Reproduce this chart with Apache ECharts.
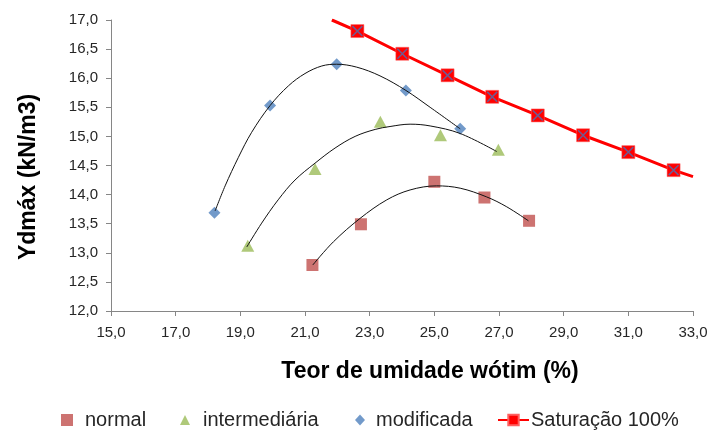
<!DOCTYPE html>
<html>
<head>
<meta charset="utf-8">
<script src="https://cdn.jsdelivr.net/npm/echarts@6/dist/echarts.min.js"></script>
<style>
  html, body { margin: 0; padding: 0; background: #fff; }
  #chart { width: 713px; height: 430px; }
</style>
</head>
<body>
<div id="chart"></div>
<script>
// Axis ticks
var xTicks = [15, 17, 19, 21, 23, 25, 27, 29, 31, 33];
var yTicks = [12, 12.5, 13, 13.5, 14, 14.5, 15, 15.5, 16, 16.5, 17];

// Compaction points (moisture %, dry unit weight kN/m3)
var normalX = [21.23, 22.73, 25.0, 26.55, 27.93];
var normalY = [12.79, 13.49, 14.22, 13.95, 13.55];

var interX = [19.23, 21.31, 23.33, 25.19, 26.98];
var interY = [13.12, 14.44, 15.25, 15.02, 14.77];

var modX = [18.2, 19.92, 21.98, 24.12, 25.8];
var modY = [13.69, 15.53, 16.24, 15.79, 15.13];

// 100% saturation line; the end points lie on the plot border and carry no marker
var satX = [21.83, 22.62, 24.01, 25.41, 26.79, 28.2, 29.6, 31.0, 32.4, 33.0];
var satY = [17.0, 16.81, 16.42, 16.05, 15.68, 15.36, 15.02, 14.73, 14.42, 14.31];
var satMarked = [false, true, true, true, true, true, true, true, true, false];

// Trend curves through each compaction series
var normTrendX = [21.24, 21.88, 22.70, 23.53, 24.25, 25.07, 25.80, 26.62, 27.24, 27.91];
var normTrendY = [12.79, 13.19, 13.59, 13.91, 14.08, 14.15, 14.11, 13.96, 13.79, 13.55];

var interTrendX = [19.2, 19.66, 20.17, 20.69, 21.31, 21.93, 22.55, 23.17, 23.63, 24.25, 24.87, 25.8, 26.93];
var interTrendY = [13.10, 13.51, 13.91, 14.25, 14.54, 14.80, 15.0, 15.12, 15.17, 15.21, 15.18, 15.05, 14.74];

var modTrendX = [18.22, 18.53, 18.94, 19.35, 19.92, 20.49, 21.0, 21.52, 21.98, 22.6, 23.32, 24.12, 24.87, 25.8];
var modTrendY = [13.72, 14.15, 14.64, 15.07, 15.53, 15.87, 16.08, 16.21, 16.24, 16.19, 16.04, 15.79, 15.50, 15.13];

function pairs(xs, ys) {
  return xs.map(function (x, i) { return [x, ys[i]]; });
}
function fmt(v) { return v.toFixed(1).replace('.', ','); }

var FONT = '"Liberation Sans", Arial, sans-serif';
var TEXT = '#262626';
var AXIS = '#868686';

var satData = satX.map(function (x, i) {
  var item = { value: [x, satY[i]] };
  if (!satMarked[i]) { item.symbol = 'none'; }
  return item;
});
var satMarkerData = pairs(satX, satY).filter(function (p, i) { return satMarked[i]; });

// Thin diagonal cross drawn over each saturation marker
var crossPath = 'path://M0,1L1,0L10,9L9,10Z M9,0L10,1L1,10L0,9Z';

function trend(name, xs, ys) {
  return {
    name: name,
    type: 'line',
    data: pairs(xs, ys),
    smooth: 0.35,
    symbol: 'none',
    lineStyle: { color: '#111', width: 1 },
    z: 4,
    silent: true
  };
}

function legendFor(name, left, icon, w, h, gap) {
  return {
    data: [{ name: name, icon: icon }],
    left: left,
    top: 410,
    padding: 0,
    itemWidth: w,
    itemHeight: h,
    selectedMode: false,
    textStyle: { fontFamily: FONT, fontSize: 20, color: TEXT, padding: [0, 0, 0, gap] }
  };
}

var chart = echarts.init(document.getElementById('chart'), null, { renderer: 'canvas' });

chart.setOption({
  animation: false,
  backgroundColor: '#fff',
  grid: { left: 111, right: 20, top: 20, bottom: 119, containLabel: false },
  xAxis: {
    type: 'value',
    min: xTicks[0],
    max: xTicks[xTicks.length - 1],
    interval: xTicks[1] - xTicks[0],
    splitLine: { show: false },
    axisLine: { lineStyle: { color: AXIS, width: 1 } },
    axisTick: { show: true, length: 5, lineStyle: { color: AXIS } },
    axisLabel: {
      margin: 14,
      fontFamily: FONT, fontSize: 15, color: TEXT,
      showMinLabel: true, showMaxLabel: true,
      formatter: fmt
    }
  },
  yAxis: {
    type: 'value',
    min: yTicks[0],
    max: yTicks[yTicks.length - 1],
    interval: yTicks[1] - yTicks[0],
    splitLine: { show: false },
    axisLine: { show: true, lineStyle: { color: AXIS, width: 1 } },
    axisTick: { show: true, length: 5, lineStyle: { color: AXIS } },
    axisLabel: {
      margin: 13,
      fontFamily: FONT, fontSize: 15, color: TEXT,
      showMinLabel: true, showMaxLabel: true,
      formatter: fmt
    }
  },
  graphic: [
    {
      type: 'text',
      x: 430, y: 372,
      style: {
        text: 'Teor de umidade wótim (%)',
        font: 'bold 23px ' + FONT,
        fill: '#000',
        textAlign: 'center',
        textVerticalAlign: 'middle'
      }
    },
    {
      type: 'text',
      x: 29, y: 177,
      rotation: Math.PI / 2,
      style: {
        text: 'Ydmáx (kN/m3)',
        font: 'bold 23px ' + FONT,
        fill: '#000',
        textAlign: 'center',
        textVerticalAlign: 'middle'
      }
    }
  ],
  legend: [
    legendFor('normal', 61, 'rect', 12, 12, 7),
    legendFor('intermediária', 180, 'triangle', 10, 10, 8),
    legendFor('modificada', 355, 'diamond', 10, 11, 6),
    {
      data: ['Saturação 100%'],
      left: 497,
      top: 410,
      padding: 0,
      itemWidth: 31,
      itemHeight: 13,
      selectedMode: false,
      textStyle: { fontFamily: FONT, fontSize: 20, color: TEXT, padding: [0, 0, 0, -3] }
    }
  ],
  series: [
    {
      name: 'normal',
      type: 'scatter',
      data: pairs(normalX, normalY),
      symbol: 'rect',
      symbolSize: 12,
      itemStyle: { color: '#C0504D' },
      z: 3
    },
    {
      name: 'intermediária',
      type: 'scatter',
      data: pairs(interX, interY),
      symbol: 'triangle',
      symbolSize: [13, 12],
      itemStyle: { color: '#9BBB59' },
      z: 3
    },
    {
      name: 'modificada',
      type: 'scatter',
      data: pairs(modX, modY),
      symbol: 'diamond',
      symbolSize: [12, 12],
      itemStyle: { color: '#4F81BD' },
      z: 3
    },
    trend('normal-trend', normTrendX, normTrendY),
    trend('intermediaria-trend', interTrendX, interTrendY),
    trend('modificada-trend', modTrendX, modTrendY),
    {
      name: 'Saturação 100%',
      type: 'line',
      data: satData,
      symbol: 'rect',
      symbolSize: 13,
      showAllSymbol: true,
      clip: true,
      lineStyle: { color: '#FF0000', width: 3 },
      itemStyle: { color: '#FF0000', borderColor: '#FF6060', borderWidth: 0.5 },
      z: 5
    },
    {
      name: 'saturacao-cross',
      type: 'scatter',
      data: satMarkerData,
      symbol: crossPath,
      symbolSize: 11,
      itemStyle: { color: '#5868A8', opacity: 0.85 },
      z: 6,
      silent: true
    }
  ]
});
</script>
</body>
</html>
